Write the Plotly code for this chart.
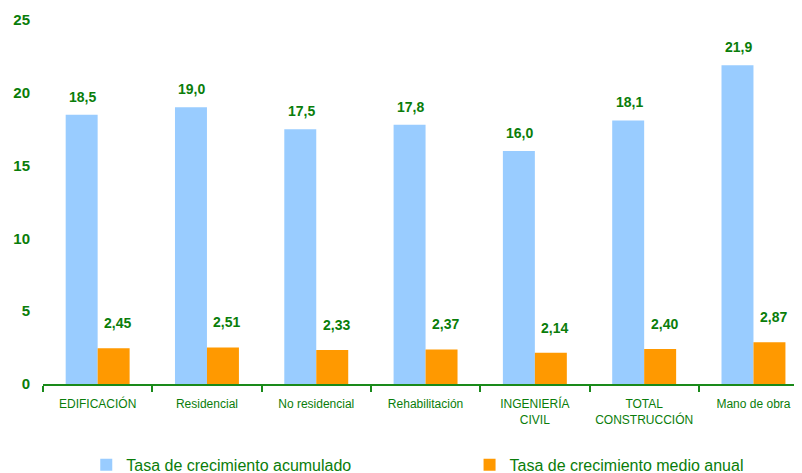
import plotly.graph_objects as go

categorias = ["EDIFICACIÓN", "Residencial", "No residencial", "Rehabilitación",
              "INGENIERÍA<br>CIVIL", "TOTAL<br>CONSTRUCCIÓN", "Mano de obra"]
acumulado = [18.5, 19.0, 17.5, 17.8, 16.0, 18.1, 21.9]
medio_anual = [2.45, 2.51, 2.33, 2.37, 2.14, 2.40, 2.87]

VERDE = "#0a7d0a"
FONT = "Arial, Liberation Sans, sans-serif"


def fmt(v, dec):
    return f"{v:.{dec}f}".replace(".", ",")


fig = go.Figure()

fig.add_trace(go.Bar(
    x=categorias, y=acumulado, name="Tasa de crecimiento acumulado",
    marker=dict(color="#99CCFF", line=dict(width=0)),
    legend="legend",
))
fig.add_trace(go.Bar(
    x=categorias, y=medio_anual, name="Tasa de crecimiento medio anual",
    marker=dict(color="#FF9900", line=dict(width=0)),
    legend="legend2",
))

# etiquetas de datos
annotations = []
for cat, a, m in zip(categorias, acumulado, medio_anual):
    annotations.append(dict(
        x=cat, y=a, xref="x", yref="y", text=f"<b>{fmt(a, 1)}</b>",
        showarrow=False, xshift=-15, yshift=8, yanchor="bottom",
        font=dict(family=FONT, size=14, color=VERDE),
    ))
    annotations.append(dict(
        x=cat, y=m, xref="x", yref="y", text=f"<b>{fmt(m, 2)}</b>",
        showarrow=False, xshift=20, yshift=15, yanchor="bottom",
        font=dict(family=FONT, size=14, color=VERDE),
    ))

legend_style = dict(
    orientation="h", xanchor="left", y=-0.222, yanchor="middle",
    font=dict(family=FONT, size=16, color=VERDE), itemwidth=30,
)

# la página tiene 8px de margen en el body
fig.update_layout(
    width=794, height=465,
    margin=dict(l=35, r=0, t=12, b=89, autoexpand=False),
    paper_bgcolor="white", plot_bgcolor="white",
    barmode="group", bargap=0.415, bargroupgap=0,
    font=dict(family=FONT, color=VERDE),
    annotations=annotations,
    xaxis=dict(
        range=[-0.5, 6.444],
        showline=True, linecolor="#1a8a1a", linewidth=2,
        ticks="outside", tickson="boundaries", ticklen=6, tickwidth=2,
        tickcolor="#1a8a1a",
        tickfont=dict(family=FONT, size=12, color=VERDE),
        ticklabelstandoff=8,
        showgrid=False, zeroline=False, automargin=False,
    ),
    yaxis=dict(
        range=[0, 25], tickvals=[0, 5, 10, 15, 20, 25],
        showgrid=False, zeroline=False, showline=False,
        tickfont=dict(family=FONT, size=15, color=VERDE, weight="bold"),
        ticklabelstandoff=12, automargin=False,
    ),
    showlegend=True,
    legend=dict(x=0.057, **legend_style),
    legend2=dict(x=0.562, **legend_style),
)

fig.write_html("out.html")
